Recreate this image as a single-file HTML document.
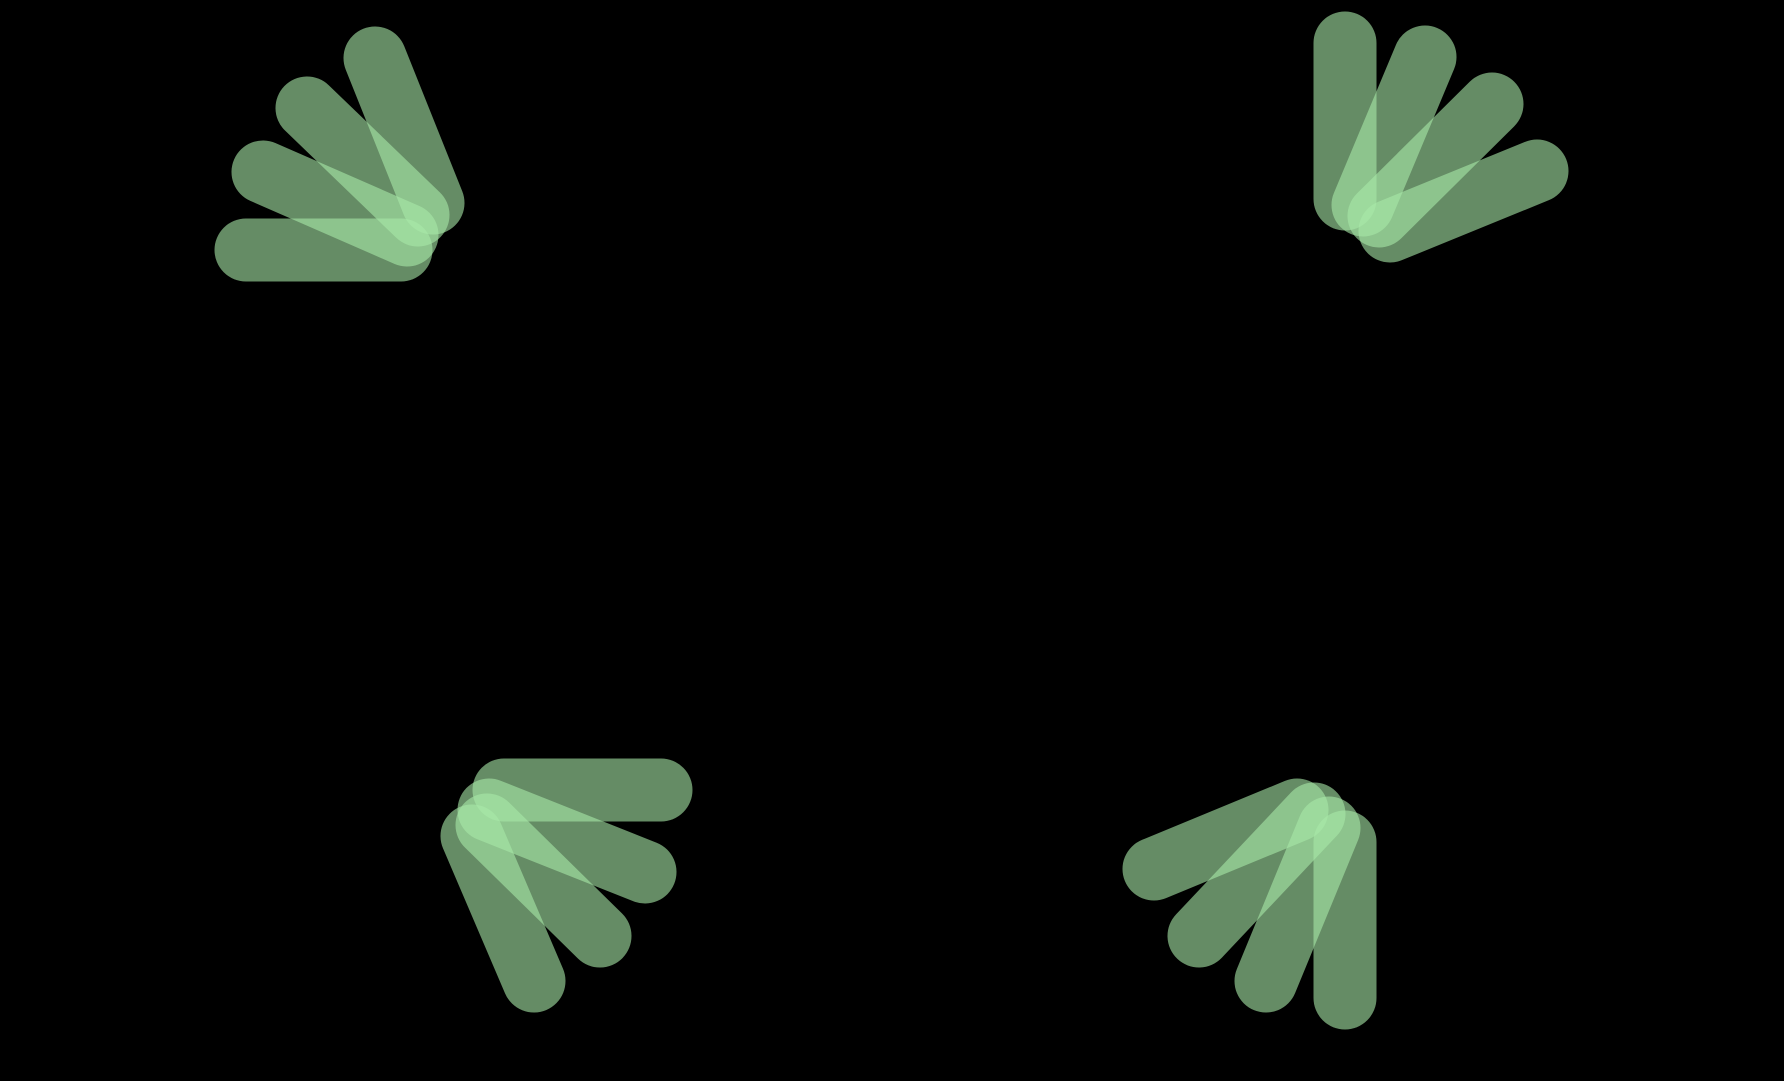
<!DOCTYPE html>
<html><head><meta charset="utf-8"><style>
html,body{margin:0;padding:0;background:#000;width:1784px;height:1081px;overflow:hidden}
svg{display:block}
</style></head><body>
<svg id="chart" width="1784" height="1081" viewBox="0 0 1784 1081">
<rect width="1784" height="1081" fill="#000"/>
</svg>
<script>
const fanNames = ['top-left-fan','top-right-fan','bottom-left-fan','bottom-right-fan'];
const startX = [[246,263,307,375],[1345,1425,1492,1537],[504,489,487,472],[1345,1329,1314,1297]];
const startY = [[250,172,108,58],[43,57,104,171],[790,810,825,836],[842,828,814,810]];
const endX = [[401,407,418,433],[1345,1363,1379,1390],[661,645,600,534],[1345,1266,1199,1154]];
const endY = [[250,235,215,203],[199,205,216,231],[790,872,936,981],[998,981,936,869]];
const svg = document.getElementById('chart');
const NS = 'http://www.w3.org/2000/svg';
fanNames.forEach((fn, f) => {
  const g = document.createElementNS(NS, 'g');
  
  
  for (let i = 0; i < startX[f].length; i++) {
    const l = document.createElementNS(NS, 'line');
    l.setAttribute('x1', startX[f][i]);
    l.setAttribute('y1', startY[f][i]);
    l.setAttribute('x2', endX[f][i]);
    l.setAttribute('y2', endY[f][i]);
    l.setAttribute('stroke', 'rgb(168,233,168)');
    l.setAttribute('stroke-opacity', '0.6');
    l.setAttribute('stroke-width', '63');
    l.setAttribute('stroke-linecap', 'round');
    
    
    g.appendChild(l);
  }
  svg.appendChild(g);
});
</script>
</body></html>
